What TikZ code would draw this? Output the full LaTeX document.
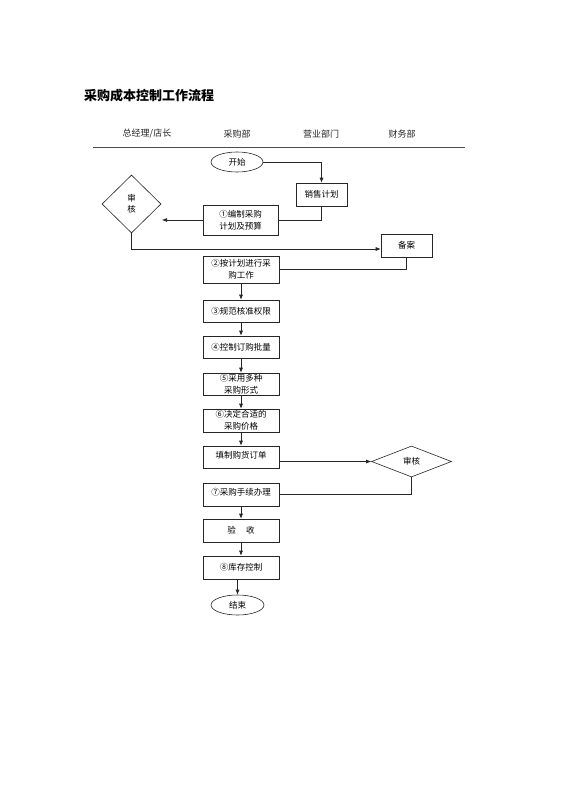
\documentclass[tikz,border=0pt]{standalone}
\usepackage{fontspec}
\setmainfont{Noto Sans CJK SC}
\usetikzlibrary{shapes.geometric,arrows.meta}
\begin{document}
\begin{tikzpicture}[x=1pt,y=-1pt,
  every node/.style={font=\fontsize{8.5}{12}\selectfont, inner sep=0pt},
  stepbox/.style={draw=black!85, line width=0.6pt, minimum width=76pt, align=center},
  endbox/.style={draw=black!85, line width=0.6pt, ellipse, minimum width=52pt, minimum height=20pt},
  checkbox/.style={draw=black!85, line width=0.6pt, diamond, align=center},
  conn/.style={draw=black!85, line width=0.6pt},
  arr/.style={conn, -{Latex[length=5pt,width=4pt]}},
  hdr/.style={font=\fontsize{9}{11}\selectfont, text=black!85}
]
\useasboundingbox (0,0) rectangle (560,792);
\fill[white] (0,0) rectangle (560,792);

\node[anchor=west, font=\fontsize{13}{15}\selectfont\bfseries] (title) at (84,96) {采购成本控制工作流程};

\node[hdr] (h1) at (147,134) {总经理/店长};
\node[hdr] (h2) at (237,134) {采购部};
\node[hdr] (h3) at (321,134) {营业部门};
\node[hdr] (h4) at (402,134) {财务部};
\draw[draw=black!70, line width=0.8pt] (93,147) coordinate (la) -- (465,147) coordinate (lb);

\node[endbox] (start) at (237,162) {开始};
\node[stepbox, minimum width=51pt, minimum height=23pt] (sales) at (321.5,194.5) {销售计划};
\node[stepbox, minimum width=75pt, minimum height=30pt] (b1) at (240.5,220) {①编制采购\\计划及预算};
\node[checkbox, minimum width=59pt, minimum height=58pt] (d1) at (131.5,204) {审\\[-1pt]核};
\coordinate (a1end) at (162,220);
\node[stepbox, minimum width=51pt, minimum height=23pt] (bak) at (406.5,245.5) {备案};
\node[stepbox, minimum height=27pt] (b2) at (241,269.5) {②按计划进行采\\购工作};
\node[stepbox, minimum height=22pt] (b3) at (241,311) {③规范核准权限};
\node[stepbox, minimum height=22pt] (b4) at (241,347) {④控制订购批量};
\node[stepbox, minimum height=22pt] (b5) at (241,384) {⑤采用多种\\采购形式};
\node[stepbox, minimum height=23pt] (b6) at (241,420.5) {⑥决定合适的\\采购价格};
\node[stepbox, minimum height=22pt, text depth=5pt] (b7a) at (241,457) {填制购货订单};
\node[checkbox, minimum width=80pt, minimum height=31pt] (d2) at (411.5,461.5) {审核};
\node[stepbox, minimum height=23pt, text depth=5pt] (b7) at (241,494.5) {⑦采购手续办理};
\node[stepbox, minimum height=23pt] (b8) at (241,530.5) {验\hspace{1.2em}收};
\node[stepbox, minimum height=23pt] (b9) at (241,567.5) {⑧库存控制};
\node[endbox, minimum width=53pt] (end) at (237.5,605) {结束};

\draw[arr] (start.east) -| (sales.north);
\draw[conn] (sales.south) |- (b1.east);
\draw[arr] (b1.west) -- (a1end);
\draw[arr] (d1.south) |- (bak.west |- 0,249);
\draw[conn] (bak.south) |- (b2.east);
\draw[arr] (b2) -- (b3);
\draw[arr] (b3) -- (b4);
\draw[arr] (b4) -- (b5);
\draw[arr] (b5) -- (b6);
\draw[arr] (b6) -- (b7a);
\draw[arr] (b7a.east |- d2.west) -- (d2.west);
\draw[conn] (d2.south) |- (b7.east);
\draw[arr] (b7) -- (b8);
\draw[arr] (b8) -- (b9);
\draw[arr] (b9.south -| end.north) -- (end.north);
\end{tikzpicture}
\end{document}
